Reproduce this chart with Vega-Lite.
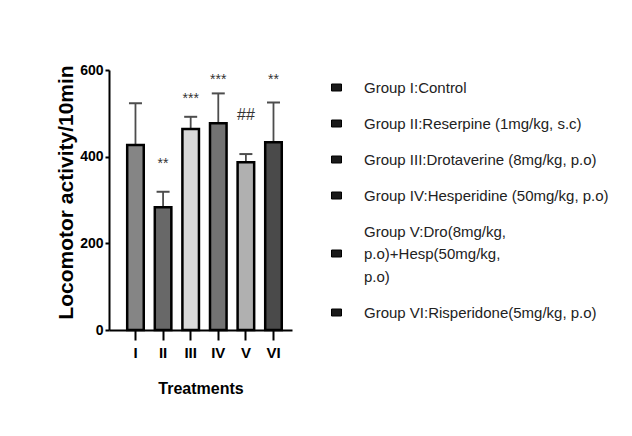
{
  "$schema": "https://vega.github.io/schema/vega-lite/v6.json",
  "width": 183,
  "height": 260,
  "autosize": {"type": "none"},
  "padding": {"left": 109, "top": 70, "right": 340, "bottom": 106},
  "background": "white",
  "config": {
    "view": {"stroke": null},
    "axis": {"grid": false, "domainColor": "black", "domainWidth": 2, "tickColor": "black", "tickWidth": 2, "labelColor": "black", "titleColor": "black"}
  },
  "data": {
    "values": [
      {"grp": "I", "label": "Group I:Control", "mean": 427, "err": 96, "sig": "", "sig_at": null},
      {"grp": "II", "label": "Group II:Reserpine (1mg/kg, s.c)", "mean": 283, "err": 36, "sig": "**", "sig_at": 392},
      {"grp": "III", "label": "Group III:Drotaverine (8mg/kg, p.o)", "mean": 464, "err": 28, "sig": "***", "sig_at": 542},
      {"grp": "IV", "label": "Group IV:Hesperidine (50mg/kg, p.o)", "mean": 477, "err": 69, "sig": "***", "sig_at": 587},
      {"grp": "V", "label": "Group V:Dro(8mg/kg,|p.o)+Hesp(50mg/kg,|p.o)", "mean": 387, "err": 19, "sig": "##", "sig_at": 496},
      {"grp": "VI", "label": "Group VI:Risperidone(5mg/kg, p.o)", "mean": 433, "err": 92, "sig": "**", "sig_at": 587}
    ]
  },
  "encoding": {
    "x": {
      "field": "grp", "type": "nominal", "sort": null,
      "scale": {"paddingInner": 0.4, "paddingOuter": 0.515, "align": 0.64},
      "axis": {
        "title": "Treatments", "labelAngle": 0, "tickSize": 10, "labelPadding": 5,
        "labelFont": "Liberation Sans", "labelFontSize": 15, "labelFontWeight": "bold",
        "titleFont": "Liberation Sans", "titleFontSize": 16, "titleFontWeight": "bold", "titlePadding": 20
      }
    }
  },
  "resolve": {"scale": {"fill": "independent"}, "legend": {"fill": "independent"}},
  "layer": [
    {
      "mark": {"type": "bar", "strokeWidth": 0, "opacity": 1},
      "encoding": {
        "y": {"datum": 0, "type": "quantitative"},
        "y2": {"datum": 0},
        "fill": {
          "field": "label", "type": "nominal", "sort": null,
          "scale": {"range": ["#1a1a1a", "#1a1a1a", "#1a1a1a", "#1a1a1a", "#1a1a1a", "#1a1a1a"]},
          "legend": {
            "title": null, "orient": "none", "legendX": 220, "legendY": 10,
            "symbolType": "M-1,-0.7L1,-0.7L1,0.7L-1,0.7Z", "symbolSize": 100, "symbolStrokeWidth": 1, "symbolStrokeColor": "black", "symbolOpacity": 1,
            "labelFont": "Liberation Sans", "labelFontSize": 15, "labelColor": "#222",
            "labelOffset": 20, "rowPadding": 20, "labelLimit": 400, "padding": 0,
            "labelExpr": "split(datum.label, '|')",
            "encode": {
              "labels": {
                "update": {
                  "lineHeight": {"value": 22.5},
                  "dy": {"signal": "indexof(datum.value, '|') >= 0 ? -22 : 0"}
                }
              }
            }
          }
        }
      }
    },
    {
      "transform": [{"calculate": "datum.mean + datum.err", "as": "upper"}],
      "mark": {"type": "rule", "color": "#4d4d4d", "strokeWidth": 1.8},
      "encoding": {
        "y": {"field": "mean", "type": "quantitative"},
        "y2": {"field": "upper"}
      }
    },
    {
      "transform": [{"calculate": "datum.mean + datum.err", "as": "upper"}],
      "mark": {"type": "tick", "orient": "horizontal", "color": "#4d4d4d", "size": 13, "thickness": 2, "opacity": 1},
      "encoding": {
        "y": {"field": "upper", "type": "quantitative"}
      }
    },
    {
      "mark": {"type": "bar", "stroke": "black", "strokeWidth": 2.5, "opacity": 1},
      "encoding": {
        "y": {
          "field": "mean", "type": "quantitative",
          "scale": {"domain": [0, 600], "nice": false},
          "axis": {
            "values": [0, 200, 400, 600], "tickSize": 4, "labelPadding": 2,
            "labelFont": "Liberation Sans", "labelFontSize": 14, "labelFontWeight": "bold",
            "title": "Locomotor activity/10min", "titleFont": "Liberation Sans", "titleFontSize": 21, "titleFontWeight": "bold", "titlePadding": 3, "titleY": 122
          }
        },
        "fill": {
          "field": "grp", "type": "nominal", "sort": null,
          "scale": {"range": ["#858585", "#686868", "#d9d9d9", "#737373", "#b0b0b0", "#4a4a4a"]},
          "legend": null
        }
      }
    },
    {
      "transform": [{"filter": "datum.sig == '**' || datum.sig == '***'"}],
      "mark": {"type": "text", "font": "Liberation Sans", "fontSize": 14, "fill": "#333", "baseline": "middle", "dy": 4},
      "encoding": {
        "y": {"field": "sig_at", "type": "quantitative"},
        "text": {"field": "sig"}
      }
    },
    {
      "transform": [{"filter": "datum.sig == '##'"}],
      "mark": {"type": "text", "font": "Liberation Sans", "fontSize": 16, "fill": "#333", "baseline": "middle"},
      "encoding": {
        "y": {"field": "sig_at", "type": "quantitative"},
        "text": {"field": "sig"}
      }
    }
  ]
}
